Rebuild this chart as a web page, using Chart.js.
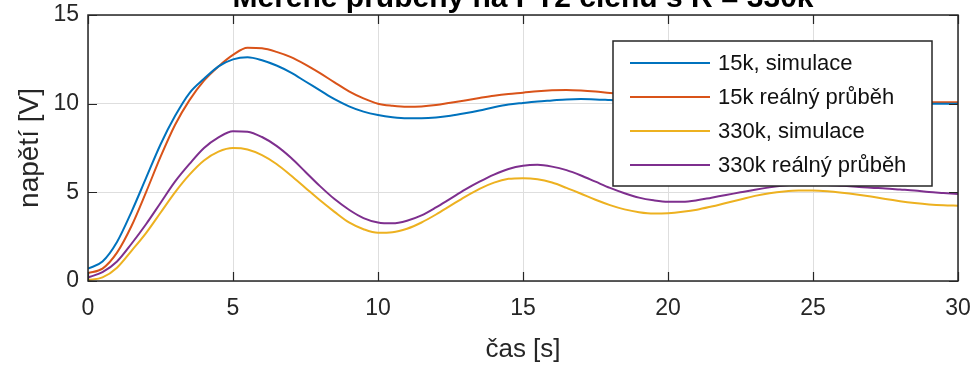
<!DOCTYPE html>
<html>
<head>
<meta charset="utf-8">
<script src="https://cdn.jsdelivr.net/npm/chart.js@4.4.0/dist/chart.umd.min.js"></script>
<style>
  html, body { margin: 0; padding: 0; background: #fff; }
  #wrap { width: 974px; height: 365px; position: relative; overflow: hidden; }
</style>
</head>
<body>
<div id="wrap"><canvas id="chart" width="974" height="365"></canvas></div>
<script>
// time axis [s], step 0.5
const casS = []
for (let i = 0; i <= 60; i++) casS.push(i / 2)

const sim15k = [
  0.70, 1.10, 2.20, 3.90, 5.80, 7.70, 9.30, 10.60, 11.40, 12.10,
  12.50, 12.62, 12.45, 12.15, 11.75, 11.25, 10.75, 10.25, 9.85, 9.55,
  9.36, 9.24, 9.18, 9.18, 9.22, 9.32, 9.46, 9.62, 9.80, 9.95,
  10.04, 10.12, 10.18, 10.24, 10.26, 10.24, 10.20, 10.16, 10.13, 10.10,
  10.08, 10.06, 10.05, 10.04, 10.03, 10.02, 10.02, 10.01, 10.01, 10.00,
  10.00, 10.00, 10.00, 10.00, 10.00, 10.00, 10.00, 10.00, 10.00, 10.00, 10.00
]
const real15k = [
  0.45, 0.70, 1.60, 3.10, 5.00, 7.00, 8.80, 10.20, 11.30, 12.10,
  12.75, 13.15, 13.12, 12.92, 12.62, 12.20, 11.72, 11.20, 10.70, 10.30,
  10.00, 9.88, 9.82, 9.84, 9.92, 10.05, 10.18, 10.32, 10.45, 10.55,
  10.62, 10.70, 10.75, 10.77, 10.74, 10.68, 10.60, 10.54, 10.48, 10.42,
  10.38, 10.34, 10.30, 10.27, 10.24, 10.22, 10.20, 10.18, 10.16, 10.15,
  10.14, 10.13, 10.12, 10.11, 10.10, 10.10, 10.09, 10.09, 10.08, 10.08, 10.08
]
const sim330k = [
  0.05, 0.20, 0.75, 1.70, 2.70, 3.85, 5.00, 6.00, 6.80, 7.30,
  7.50, 7.42, 7.10, 6.60, 5.95, 5.25, 4.55, 3.90, 3.30, 2.92,
  2.72, 2.75, 2.95, 3.30, 3.75, 4.25, 4.75, 5.20, 5.55, 5.76,
  5.80, 5.74, 5.55, 5.25, 4.92, 4.58, 4.28, 4.04, 3.88, 3.80,
  3.82, 3.90, 4.02, 4.20, 4.40, 4.60, 4.80, 4.95, 5.05, 5.10,
  5.10, 5.06, 4.98, 4.88, 4.76, 4.62, 4.50, 4.40, 4.32, 4.27, 4.25
]
const real330k = [
  0.20, 0.50, 1.10, 2.10, 3.20, 4.40, 5.60, 6.60, 7.50, 8.10,
  8.45, 8.42, 8.12, 7.62, 6.95, 6.15, 5.35, 4.62, 4.02, 3.55,
  3.30, 3.25, 3.40, 3.70, 4.15, 4.65, 5.15, 5.60, 6.00, 6.32,
  6.50, 6.55, 6.45, 6.25, 5.95, 5.60, 5.25, 4.95, 4.70, 4.55,
  4.47, 4.47, 4.55, 4.70, 4.85, 5.00, 5.15, 5.28, 5.38, 5.44,
  5.45, 5.42, 5.37, 5.32, 5.26, 5.22, 5.16, 5.10, 5.02, 4.96, 4.90
]

const seriesNames = ["15k, simulace", "15k reálný průběh", "330k, simulace", "330k reálný průběh"]
const seriesColors = ["#0072BD", "#D95319", "#EDB120", "#7E2F8E"]
const seriesData = [sim15k, real15k, sim330k, real330k]

const xTicks = [0, 5, 10, 15, 20, 25, 30]
const yTicks = [0, 5, 10, 15]

const titleText = "Měřené průběhy na PT2 členu s R = 330k"
const xTitle = "čas [s]"
const yTitle = "napětí [V]"

const axisColor = "#262626"
const font = "'Liberation Sans', Arial, sans-serif"

// box around the axes with inward ticks on all four sides (MATLAB style)
const boxPlugin = {
  id: "boxPlugin",
  afterDatasetsDraw(chart) {
    const { ctx, chartArea: a, scales } = chart
    ctx.save()
    ctx.strokeStyle = axisColor
    ctx.lineWidth = 1.5
    ctx.strokeRect(a.left, a.top, a.right - a.left, a.bottom - a.top)
    const len = 9
    ctx.beginPath()
    xTicks.forEach(v => {
      const px = Math.round(scales.x.getPixelForValue(v)) + 0.5
      ctx.moveTo(px, a.bottom); ctx.lineTo(px, a.bottom - len)
      ctx.moveTo(px, a.top); ctx.lineTo(px, a.top + len)
    })
    yTicks.forEach(v => {
      const py = Math.round(scales.y.getPixelForValue(v)) + 0.5
      ctx.moveTo(a.left, py); ctx.lineTo(a.left + len, py)
      ctx.moveTo(a.right, py); ctx.lineTo(a.right - len, py)
    })
    ctx.lineWidth = 1.2
    ctx.stroke()
    ctx.restore()
  }
}

// legend box inside the plot, drawn over the lines
const legendPlugin = {
  id: "legendBox",
  afterDraw(chart) {
    const ctx = chart.ctx
    const x0 = 613, y0 = 41, w = 319, h = 145
    ctx.save()
    ctx.fillStyle = "#fff"
    ctx.fillRect(x0, y0, w, h)
    ctx.strokeStyle = axisColor
    ctx.lineWidth = 1.5
    ctx.strokeRect(x0, y0, w, h)
    ctx.font = "22px " + font
    ctx.textBaseline = "middle"
    chart.data.datasets.forEach((ds, i) => {
      const yy = y0 + 22 + i * 34
      ctx.strokeStyle = ds.borderColor
      ctx.lineWidth = 2
      ctx.beginPath()
      ctx.moveTo(630, yy); ctx.lineTo(710, yy)
      ctx.stroke()
      ctx.fillStyle = "#111"
      ctx.fillText(ds.label, 718, yy + 1)
    })
    ctx.restore()
  }
}

// title sits half above the top edge of the picture
const titlePlugin = {
  id: "cutTitle",
  afterDraw(chart) {
    const ctx = chart.ctx
    const a = chart.chartArea
    ctx.save()
    ctx.font = "bold 30px " + font
    ctx.fillStyle = "#000"
    ctx.textAlign = "center"
    ctx.textBaseline = "alphabetic"
    ctx.fillText(titleText, (a.left + a.right) / 2, 7)
    ctx.restore()
  }
}

new Chart(document.getElementById("chart"), {
  type: "line",
  data: {
    datasets: seriesData.map((arr, i) => ({
      label: seriesNames[i],
      data: arr.map((v, j) => ({ x: casS[j], y: v })),
      borderColor: seriesColors[i],
      backgroundColor: seriesColors[i],
      borderWidth: 2,
      pointRadius: 0,
      cubicInterpolationMode: "monotone",
      fill: false
    }))
  },
  options: {
    responsive: false,
    devicePixelRatio: 1,
    animation: false,
    layout: { padding: { top: 15, right: 16, bottom: 0, left: 0 } },
    plugins: {
      legend: { display: false },
      tooltip: { enabled: false },
      title: { display: false }
    },
    scales: {
      x: {
        type: "linear",
        min: 0, max: 30,
        afterBuildTicks: s => { s.ticks = xTicks.map(v => ({ value: v })) },
        afterFit: s => { s.height = 84; s.paddingLeft = 0; s.paddingRight = 0 },
        grid: { color: "#dedede", lineWidth: 1, drawTicks: false },
        border: { display: false },
        ticks: { color: axisColor, font: { family: font, size: 23 }, padding: 14, maxRotation: 0 },
        title: { display: true, text: xTitle, color: axisColor, font: { family: font, size: 26 }, padding: { top: 4, bottom: 0 } }
      },
      y: {
        min: 0, max: 15,
        afterBuildTicks: s => { s.ticks = yTicks.map(v => ({ value: v })) },
        afterFit: s => { s.width = 88; s.paddingTop = 0; s.paddingBottom = 0 },
        grid: { color: "#dedede", lineWidth: 1, drawTicks: false },
        border: { display: false },
        ticks: { color: axisColor, font: { family: font, size: 23 }, padding: 9 },
        title: { display: true, text: yTitle, color: axisColor, font: { family: font, size: 28 }, padding: { top: 13, bottom: 0 } }
      }
    }
  },
  plugins: [boxPlugin, legendPlugin, titlePlugin]
})
</script>
</body>
</html>
